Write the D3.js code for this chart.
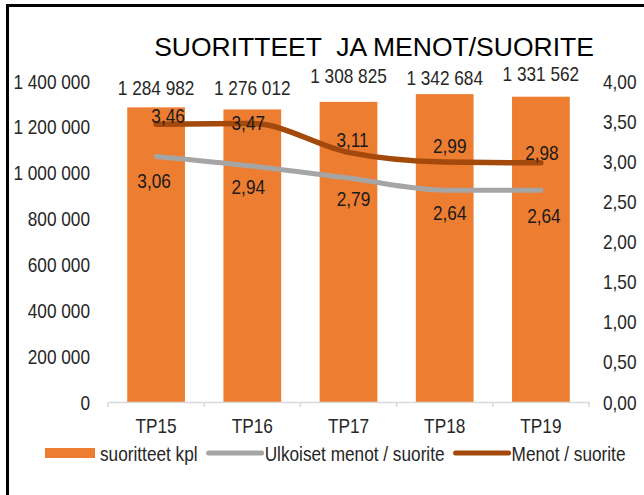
<!DOCTYPE html>
<html>
<head>
<meta charset="utf-8">
<script src="https://cdn.jsdelivr.net/npm/d3@7"></script>
<style>
  body { margin: 0; background: #fff; }
  svg text { font-family: "Liberation Sans", Arial, sans-serif; fill: #262626; }
</style>
</head>
<body>
<div id="chart"></div>
<script>
// data
const years = ['TP15', 'TP16', 'TP17', 'TP18', 'TP19'];
const suoritteet = [1284982, 1276012, 1308825, 1342684, 1331562];
const ulkoisetMenot = [3.06, 2.94, 2.79, 2.64, 2.64];
const menot = [3.46, 3.47, 3.11, 2.99, 2.98];
const leftTicks = [0, 200000, 400000, 600000, 800000, 1000000, 1200000, 1400000];
const rightTicks = [0, 0.5, 1, 1.5, 2, 2.5, 3, 3.5, 4];

// hand-placed label nudges (the original labels were dragged around)
const barLabelDy = [-20, -22, -26, -17, -23];
const menotLabelDx = [12, -4, 4, 5, 1];
const menotLabelDy = [-9, -1, -13, -17, -10];
const ulkLabelDx = [-2, -4, 5, 5, 3];
const ulkLabelDy = [24, 20, 20, 22, 25];

const width = 644, height = 495;
const orange = '#ed7d31', gray = '#a5a5a5', brown = '#a3490c';

const fmtInt = d => d3.format(',')(d).replace(/,/g, '\u00a0');
const fmtDec = d => d3.format('.2f')(d).replace('.', ',');

// no narrow font installed, so squeeze Liberation Sans to look like Arial Narrow
function narrow(sel) {
  sel.each(function() {
    const w = this.getComputedTextLength();
    d3.select(this)
      .attr('textLength', w * 0.82)
      .attr('lengthAdjust', 'spacingAndGlyphs');
  });
}

const svg = d3.select('#chart').append('svg')
  .attr('width', width)
  .attr('height', height);

// outer frame
svg.append('rect')
  .attr('x', 7.5).attr('y', 5.5)
  .attr('width', 700).attr('height', 600)
  .attr('fill', 'none')
  .attr('stroke', '#000')
  .attr('stroke-width', 3);

const x = d3.scaleBand()
  .domain(years)
  .range([108, 589])
  .paddingInner(0.4)
  .paddingOuter(0.2);

const yLeft = d3.scaleLinear().domain([0, 1400000]).range([402, 81]);
const yRight = d3.scaleLinear().domain([0, 4]).range([402, 81]);

// title
svg.append('text')
  .attr('x', 374).attr('y', 56)
  .attr('text-anchor', 'middle')
  .style('font-size', '26.5px')
  .style('white-space', 'pre')
  .style('fill', '#000')
  .text('SUORITTEET  JA MENOT/SUORITE');

// left axis labels
svg.append('g')
  .selectAll('text')
  .data(leftTicks)
  .join('text')
    .attr('x', 90)
    .attr('y', d => yLeft(d))
    .attr('dy', '0.36em')
    .attr('text-anchor', 'end')
    .style('font-size', '21px')
    .text(fmtInt)
    .call(narrow);

// right axis labels
svg.append('g')
  .selectAll('text')
  .data(rightTicks)
  .join('text')
    .attr('x', 603)
    .attr('y', d => yRight(d))
    .attr('dy', '0.36em')
    .style('font-size', '21px')
    .text(fmtDec)
    .call(narrow);

// bars
svg.append('g')
  .selectAll('rect')
  .data(suoritteet)
  .join('rect')
    .attr('x', (d, i) => x(years[i]))
    .attr('y', d => yLeft(d))
    .attr('width', x.bandwidth())
    .attr('height', d => yLeft(0) - yLeft(d))
    .attr('fill', orange);

// category axis
const xAxis = svg.append('g')
  .attr('transform', `translate(0,${yLeft(0)})`)
  .call(d3.axisBottom(x).tickSize(0).tickPadding(16));
xAxis.select('.domain').attr('stroke', '#d9d9d9').attr('stroke-width', 1.5);
xAxis.selectAll('text')
  .style('font-size', '21px')
  .style('font-family', '"Liberation Sans", Arial, sans-serif')
  .attr('fill', '#262626')
  .call(narrow);
const edges = years.map(d => x(d) - x.step() * x.paddingInner() / 2)
  .concat([x.range()[1]]);
edges[0] = x.range()[0];
xAxis.selectAll('.edge')
  .data(edges)
  .join('line')
    .attr('x1', d => d).attr('x2', d => d)
    .attr('y1', 0).attr('y2', 5)
    .attr('stroke', '#d9d9d9')
    .attr('stroke-width', 1.5);

// lines
const cx = i => x(years[i]) + x.bandwidth() / 2;
const line = d3.line()
  .x((d, i) => cx(i))
  .y(d => yRight(d))
  .curve(d3.curveMonotoneX);

svg.append('path')
  .datum(ulkoisetMenot)
  .attr('d', line)
  .attr('fill', 'none')
  .attr('stroke', gray)
  .attr('stroke-width', 5)
  .attr('stroke-linecap', 'round');

svg.append('path')
  .datum(menot)
  .attr('d', line)
  .attr('fill', 'none')
  .attr('stroke', brown)
  .attr('stroke-width', 5.5)
  .attr('stroke-linecap', 'round');

// value labels
svg.append('g')
  .selectAll('text')
  .data(suoritteet)
  .join('text')
    .attr('x', (d, i) => cx(i))
    .attr('y', (d, i) => yLeft(d) + barLabelDy[i])
    .attr('dy', '0.36em')
    .attr('text-anchor', 'middle')
    .style('font-size', '21px')
    .text(fmtInt)
    .call(narrow);

svg.append('g')
  .selectAll('text')
  .data(ulkoisetMenot)
  .join('text')
    .attr('x', (d, i) => cx(i) + ulkLabelDx[i])
    .attr('y', (d, i) => yRight(d) + ulkLabelDy[i])
    .attr('dy', '0.36em')
    .attr('text-anchor', 'middle')
    .style('font-size', '21px')
    .style('fill', '#1a1a1a')
    .text(fmtDec)
    .call(narrow);

svg.append('g')
  .selectAll('text')
  .data(menot)
  .join('text')
    .attr('x', (d, i) => cx(i) + menotLabelDx[i])
    .attr('y', (d, i) => yRight(d) + menotLabelDy[i])
    .attr('dy', '0.36em')
    .attr('text-anchor', 'middle')
    .style('font-size', '21px')
    .style('fill', '#1a1a1a')
    .text(fmtDec)
    .call(narrow);

// legend
const legendItems = [
  { name: 'suoritteet kpl', type: 'rect', color: orange },
  { name: 'Ulkoiset menot / suorite', type: 'line', color: gray },
  { name: 'Menot / suorite', type: 'line', color: brown }
];
const legend = svg.append('g');
const ly = 453;
let cursor = 45;
legendItems.forEach(item => {
  if (item.type === 'rect') {
    legend.append('rect')
      .attr('x', cursor).attr('y', ly - 5)
      .attr('width', 50).attr('height', 10)
      .attr('fill', item.color);
    cursor += 55;
  } else {
    legend.append('line')
      .attr('x1', cursor + 2).attr('x2', cursor + 55)
      .attr('y1', ly).attr('y2', ly)
      .attr('stroke', item.color)
      .attr('stroke-width', 5)
      .attr('stroke-linecap', 'round');
    cursor += 58;
  }
  const t = legend.append('text')
    .attr('x', cursor).attr('y', ly)
    .attr('dy', '0.36em')
    .style('font-size', '21px')
    .text(item.name)
    .call(narrow);
  cursor += +t.attr('textLength') + 9;
});
</script>
</body>
</html>
